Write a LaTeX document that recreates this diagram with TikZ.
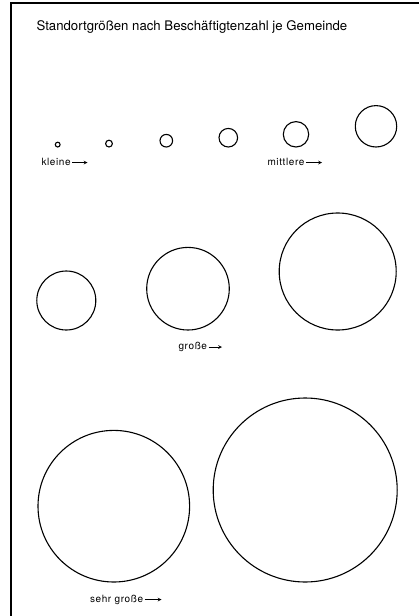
\documentclass[tikz,border=0pt]{standalone}
\usepackage{fontspec}
\setmainfont{TeX Gyre Heros}
\newfontfamily\lblfont[LetterSpace=6]{TeX Gyre Heros}
\tikzset{
  lbl/.style={anchor=base west, inner sep=0pt, font=\lblfont\fontsize{10}{12}\selectfont},
  pfeil/.style={-stealth, line width=0.7pt, shorten <=1pt},
}
\begin{document}
\begin{tikzpicture}[x=1pt, y=-1pt, line width=1.1pt]
  \useasboundingbox (0,0) rectangle (419,616);
  \draw[line width=1.4pt] (11,616) -- (11,3) -- (419,3);
  \node[anchor=base west, inner sep=0pt, font=\fontsize{13.2}{16}\selectfont] (titel) at (36,30)
    {Standortgrößen nach Beschäftigtenzahl je Gemeinde};
  % kleine und mittlere
  \foreach \x/\r in {57.7/2.4, 109/3.4, 166.3/6.3, 228.3/9.3, 296/12.7, 376/20.7}
    \draw (\x,147-\r) circle (\r pt);
  % große
  \foreach \x/\r in {66.3/29.5, 188/41.3, 337.7/58.5}
    \draw (\x,330-\r) circle (\r pt);
  % sehr große
  \foreach \x/\r in {113.8/75.8, 305.2/92}
    \draw (\x,582-\r) circle (\r pt);
  % Beschriftung
  \node[lbl] (kleine) at (41,165) {kleine};
  \coordinate (kleineEnde) at (87.5,162.5);
  \draw[pfeil] (kleine.east |- kleineEnde) -- (kleineEnde);
  \node[lbl] (mittlere) at (267,165) {mittlere};
  \coordinate (mittlereEnde) at (322,162.5);
  \draw[pfeil] (mittlere.east |- mittlereEnde) -- (mittlereEnde);
  \node[lbl] (grosse) at (178,349.5) {große};
  \coordinate (grosseEnde) at (222,347);
  \draw[pfeil] (grosse.east |- grosseEnde) -- (grosseEnde);
  \node[lbl] (sehrgrosse) at (89.5,602) {sehr große};
  \coordinate (sehrgrosseEnde) at (161.5,599.5);
  \draw[pfeil] (sehrgrosse.east |- sehrgrosseEnde) -- (sehrgrosseEnde);
\end{tikzpicture}
\end{document}
